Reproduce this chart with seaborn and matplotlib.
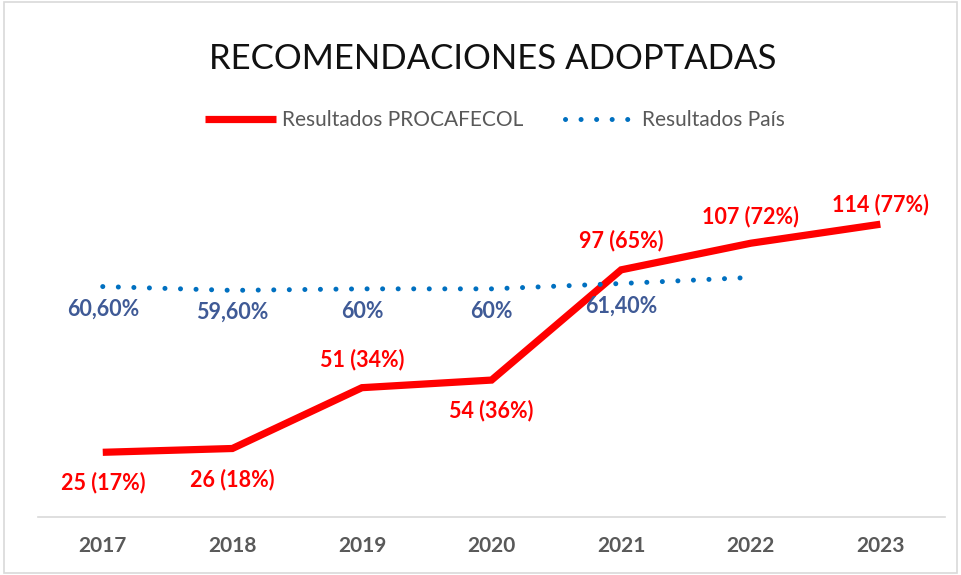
import pandas as pd
import matplotlib.pyplot as plt
import seaborn as sns
from matplotlib.patches import Rectangle

# Datos
years = [2017, 2018, 2019, 2020, 2021, 2022, 2023]
procafecol_count = [25, 26, 51, 54, 97, 107, 114]
procafecol_pct = [17, 18, 34, 36, 65, 72, 77]
pais_years = [2017, 2018, 2019, 2020, 2021, 2022]
pais_pct = [60.6, 59.6, 60.0, 60.0, 61.4, 63.0]
pais_labels = ["60,60%", "59,60%", "60%", "60%", "61,40%"]

df_red = pd.DataFrame({"year": years, "pct": procafecol_pct})
df_blue = pd.DataFrame({"year": pais_years, "pct": pais_pct})

sns.set_style("white")
plt.rcParams['font.family'] = ['Lato', 'DejaVu Sans']

red = "#FF0000"
blue = "#0070C0"
blue_txt = "#3F5A96"
gray = "#595959"

fig = plt.figure(figsize=(9.61, 5.75), dpi=100)
ax = fig.add_axes([0.0395, 0.101, 0.944, 0.595])

sns.lineplot(data=df_red, x="year", y="pct", color=red, linewidth=5.2,
             solid_capstyle="butt", solid_joinstyle="miter", ax=ax,
             label="Resultados PROCAFECOL")
sns.lineplot(data=df_blue, x="year", y="pct", color=blue, linewidth=3.6,
             linestyle=(0, (0.01, 3.1)), dash_capstyle="round", ax=ax,
             label="Resultados País")

ax.set_xlim(2016.5, 2023.5)
ax.set_ylim(0, 90)
ax.set_xticks(years)
ax.set_xticklabels([str(y) for y in years], fontsize=15, fontweight="bold", color=gray)
ax.set_yticks([])
ax.set_xlabel("")
ax.set_ylabel("")
ax.tick_params(axis="x", length=0, pad=14)
for s in ["top", "right", "left"]:
    ax.spines[s].set_visible(False)
ax.spines["bottom"].set_color("#D9D9D9")
ax.spines["bottom"].set_linewidth(1.2)

# Etiquetas rojas (arriba / abajo)
red_offsets = [-22, -22, 20, -22, 21, 19, 14]
for x, c, p, off in zip(years, procafecol_count, procafecol_pct, red_offsets):
    ax.annotate(f"{c} ({p}%)", (x, p), textcoords="offset points", xytext=(0, off),
                ha="center", va="center", fontsize=15.5, fontweight="bold", color=red)

# Etiquetas azules (debajo)
for x, p, lab in zip(pais_years, pais_pct, pais_labels):
    ax.annotate(lab, (x, p), textcoords="offset points", xytext=(0, -16),
                ha="center", va="center", fontsize=15.5, fontweight="bold", color=blue_txt)

leg = ax.legend(loc="center", bbox_to_anchor=(495 / 961, (575 - 120) / 575), bbox_transform=fig.transFigure,
                ncol=2, frameon=False, fontsize=15, handlelength=3.4, handletextpad=0.3,
                columnspacing=2.0)
for t in leg.get_texts():
    t.set_color(gray)

fig.text(493 / 961, (575 - 59) / 575, "RECOMENDACIONES ADOPTADAS", ha="center", va="center",
         fontsize=25, color="#111111")

fig.patches.append(Rectangle((0.004, 0.004), 0.992, 0.992, transform=fig.transFigure,
                             fill=False, edgecolor="#D9D9D9", linewidth=1.2))

fig.savefig("out.png", dpi=100)
